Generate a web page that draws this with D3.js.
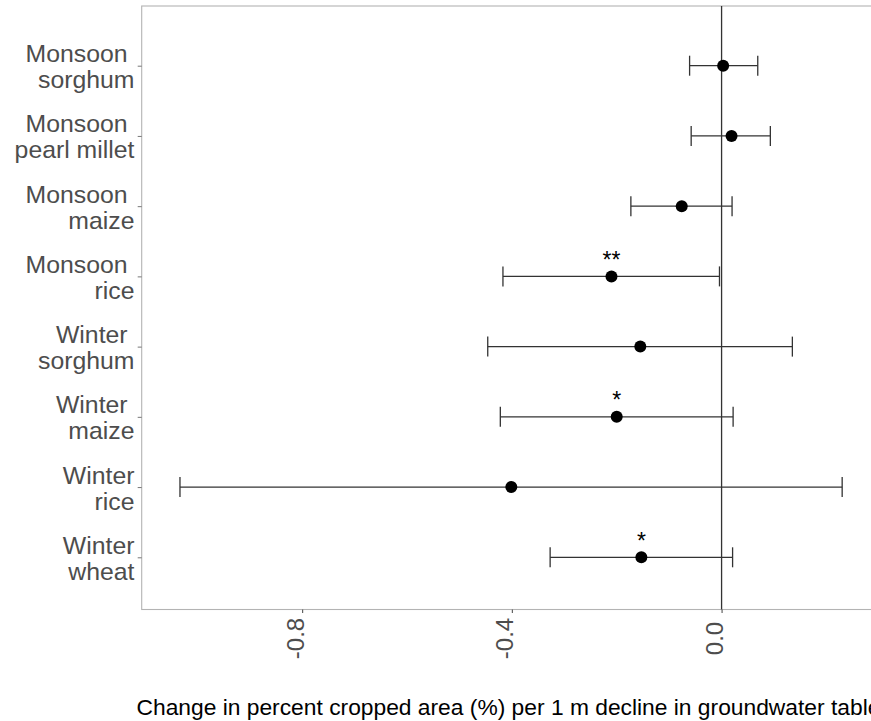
<!DOCTYPE html>
<html>
<head>
<meta charset="utf-8">
<script src="https://cdn.jsdelivr.net/npm/d3@7"></script>
<style>
  html, body { margin: 0; padding: 0; background: #ffffff; overflow: hidden; }
  svg { display: block; }
  text { font-family: "Liberation Sans", Arial, sans-serif; }
</style>
</head>
<body>
<svg id="chart" width="871" height="721"></svg>
<script>
// ---- data ----
const categories = [
  "Monsoon \nsorghum",
  "Monsoon \npearl millet",
  "Monsoon \nmaize",
  "Monsoon \nrice",
  "Winter \nsorghum",
  "Winter \nmaize",
  "Winter\nrice",
  "Winter\nwheat"
];
const estimates = [0.003, 0.019, -0.076, -0.210, -0.155, -0.200, -0.401, -0.153];
const lowerCI   = [-0.061, -0.058, -0.173, -0.417, -0.446, -0.422, -1.033, -0.327];
const upperCI   = [0.069, 0.093, 0.020, -0.004, 0.135, 0.022, 0.230, 0.021];
const significance = ["", "", "", "**", "", "*", "", "*"];
const xTickValues = [-0.8, -0.4, 0.0];
const xTickLabels = ["-0.8", "-0.4", "0.0"];
const xAxisTitle = "Change in percent cropped area (%) per 1 m decline in groundwater table";

// ---- layout ----
const panel = { left: 141.7, top: 6, right: 875.2, bottom: 609.5 };
const svg = d3.select("#chart");

const x = d3.scaleLinear().domain([-1.106, 0.293]).range([panel.left, panel.right]);
const y = d3.scalePoint().domain(categories).range([65.7, 557.3]);

const rows = categories.map((c, i) => ({
  cat: c, est: estimates[i], lo: lowerCI[i], hi: upperCI[i], sig: significance[i]
}));

// panel border
svg.append("rect")
  .attr("x", panel.left).attr("y", panel.top)
  .attr("width", panel.right - panel.left).attr("height", panel.bottom - panel.top)
  .attr("fill", "none").attr("stroke", "#b3b3b3").attr("stroke-width", 1.1);

// zero reference line
svg.append("line")
  .attr("x1", x(0)).attr("x2", x(0))
  .attr("y1", panel.top).attr("y2", panel.bottom)
  .attr("stroke", "#333").attr("stroke-width", 1.3);

// y axis ticks + labels
const yAxis = d3.axisLeft(y).tickSize(4).tickFormat("");
const yg = svg.append("g").attr("transform", `translate(${panel.left},0)`).call(yAxis);
yg.select(".domain").remove();
yg.selectAll(".tick line").attr("stroke", "#777").attr("stroke-width", 1);

const labelG = svg.append("g");
rows.forEach(r => {
  const lines = r.cat.split("\n");
  const t = labelG.append("text")
    .attr("text-anchor", "end")
    .attr("font-size", 24.8)
    .attr("fill", "#4d4d4d")
    .attr("xml:space", "preserve")
    .style("white-space", "pre");
  lines.forEach((ln, j) => {
    t.append("tspan")
      .attr("x", 134.5)
      .attr("y", y(r.cat) - 3.5 + j * 26)
      .text(ln);
  });
});

// x axis ticks + labels
const xAxis = d3.axisBottom(x).tickValues(xTickValues).tickSize(3.5).tickFormat("");
const xg = svg.append("g").attr("transform", `translate(0,${panel.bottom})`).call(xAxis);
xg.select(".domain").remove();
xg.selectAll(".tick line").attr("stroke", "#555").attr("stroke-width", 1.1);

svg.append("g").selectAll("text")
  .data(xTickValues)
  .join("text")
  .attr("transform", d => `translate(${x(d)},638.5) rotate(-90)`)
  .attr("text-anchor", "middle")
  .attr("dy", 1.5)
  .attr("font-size", 24)
  .attr("fill", "#4d4d4d")
  .text((d, i) => xTickLabels[i]);

// x axis title
svg.append("text")
  .attr("x", (panel.left + panel.right) / 2)
  .attr("y", 715)
  .attr("text-anchor", "middle")
  .attr("font-size", 22.8)
  .attr("fill", "#000")
  .text(xAxisTitle);

// error bars
const capH = 10;
const eb = svg.append("g").attr("stroke", "#333").attr("stroke-width", 1.3);
eb.selectAll("line.bar").data(rows).join("line").attr("class", "bar")
  .attr("x1", d => x(d.lo)).attr("x2", d => x(d.hi))
  .attr("y1", d => y(d.cat)).attr("y2", d => y(d.cat));
eb.selectAll("line.capl").data(rows).join("line").attr("class", "capl")
  .attr("x1", d => x(d.lo)).attr("x2", d => x(d.lo))
  .attr("y1", d => y(d.cat) - capH).attr("y2", d => y(d.cat) + capH);
eb.selectAll("line.capr").data(rows).join("line").attr("class", "capr")
  .attr("x1", d => x(d.hi)).attr("x2", d => x(d.hi))
  .attr("y1", d => y(d.cat) - capH).attr("y2", d => y(d.cat) + capH);

// points
svg.append("g").selectAll("circle").data(rows).join("circle")
  .attr("cx", d => x(d.est)).attr("cy", d => y(d.cat)).attr("r", 6)
  .attr("fill", "#000");

// significance stars
svg.append("g").selectAll("text").data(rows.filter(d => d.sig)).join("text")
  .attr("x", d => x(d.est)).attr("y", d => y(d.cat) - 8.5)
  .attr("text-anchor", "middle")
  .attr("font-size", 23)
  .attr("fill", "#000")
  .text(d => d.sig);
</script>
</body>
</html>
